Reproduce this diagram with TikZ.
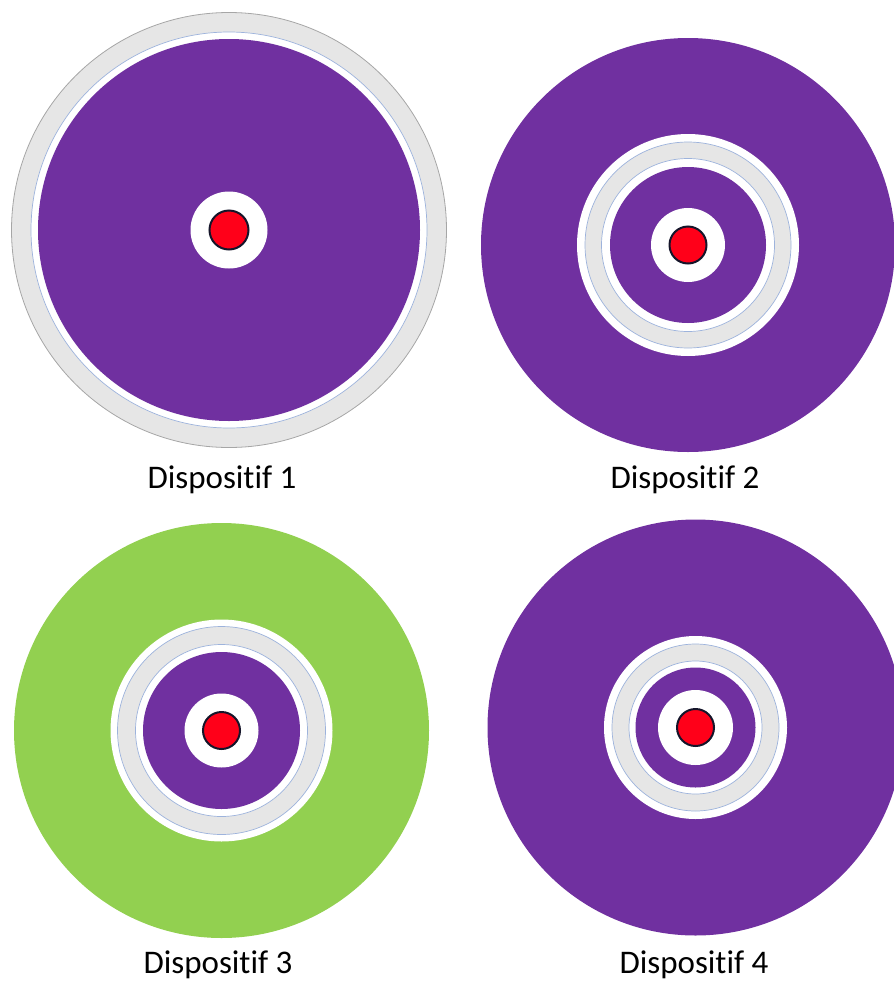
\documentclass[tikz,border=0pt]{standalone}
\usepackage{fontspec}
\setmainfont[Ligatures={NoCommon}]{Carlito}
\definecolor{purp}{HTML}{7030A0}
\definecolor{grn}{HTML}{92D050}
\definecolor{ringgray}{HTML}{E6E6E6}
\definecolor{edgegray}{HTML}{A6A6A6}
\definecolor{edgeblue}{HTML}{9DB3DC}
\definecolor{dotred}{HTML}{FF0019}
\definecolor{dotedge}{HTML}{15152A}
\begin{document}
\begin{tikzpicture}[x=1pt,y=-1pt,
  lab/.style={font=\fontsize{33}{40}\selectfont, anchor=base, inner sep=0pt},
  bline/.style={draw=edgeblue, line width=0.7pt},
  dot/.style={fill=dotred, draw=dotedge, line width=2pt}]
\useasboundingbox (0,0) rectangle (894,983);
\clip (0,0) rectangle (894,983);
% Dispositif 1
\filldraw[fill=ringgray, draw=edgegray, line width=0.8pt] (229,230) circle[radius=217.5pt];
\filldraw[fill=white, bline] (229,230) circle[radius=198pt];
\fill[purp] (229,230) circle[radius=191pt];
\fill[white] (229,230) circle[radius=38.5pt];
\draw[dot] (229,230) circle[radius=19.5pt];
\node[lab] (l1) at (222,488) {Dispositif 1};
% Dispositif 2
\fill[purp] (688,245) circle[radius=207pt];
\fill[white] (688,245) circle[radius=111pt];
\filldraw[fill=ringgray, bline] (688,245) circle[radius=103pt];
\filldraw[fill=white, bline] (688,245) circle[radius=86.5pt];
\fill[purp] (688,245) circle[radius=78pt];
\fill[white] (688,245) circle[radius=37pt];
\draw[dot] (688,245) circle[radius=18.5pt];
\node[lab] (l2) at (685,488) {Dispositif 2};
% Dispositif 3
\fill[grn] (221.5,730.5) circle[radius=207.5pt];
\fill[white] (221.5,730.5) circle[radius=111pt];
\filldraw[fill=ringgray, bline] (221.5,730.5) circle[radius=104pt];
\filldraw[fill=white, bline] (221.5,730.5) circle[radius=86pt];
\fill[purp] (221.5,730.5) circle[radius=78.5pt];
\fill[white] (221.5,730.5) circle[radius=37pt];
\draw[dot] (221.5,730.5) circle[radius=18.5pt];
\node[lab] (l3) at (218,973) {Dispositif 3};
% Dispositif 4
\fill[purp] (695.5,727.5) circle[radius=208pt];
\fill[white] (695.5,727.5) circle[radius=91.5pt];
\filldraw[fill=ringgray, bline] (695.5,727.5) circle[radius=83.5pt];
\filldraw[fill=white, bline] (695.5,727.5) circle[radius=66.5pt];
\fill[purp] (695.5,727.5) circle[radius=60pt];
\fill[white] (695.5,727.5) circle[radius=37.5pt];
\draw[dot] (695.5,727.5) circle[radius=18.5pt];
\node[lab] (l4) at (694,973) {Dispositif 4};
\end{tikzpicture}
\end{document}
